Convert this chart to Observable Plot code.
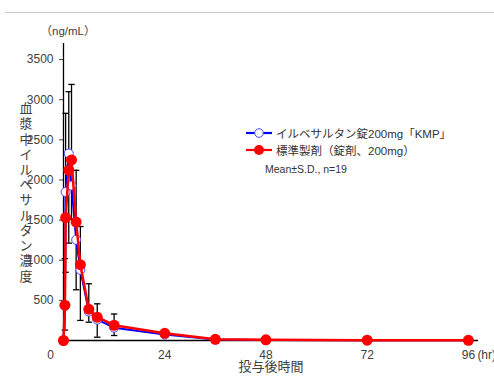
<!DOCTYPE html>
<html>
<head>
<meta charset="utf-8">
<script src="https://cdn.jsdelivr.net/npm/d3@7"></script>
<script src="https://cdn.jsdelivr.net/npm/@observablehq/plot@0.6"></script>
<style>
  body { margin: 0; background: #fff; }
  #wrap { position: relative; width: 494px; height: 376px; overflow: hidden; font-family: "Liberation Sans", "Noto Sans CJK JP", sans-serif; color: #333; }
  #topline { position: absolute; left: 5px; right: 0; top: 12px; border-top: 1px solid #c8c8c8; }
  #legend { position: absolute; left: 245px; top: 124px; font-size: 11.5px; }
  .row { display: flex; align-items: center; height: 17px; white-space: nowrap; }
  .row svg { margin-right: 3px; }
  .note { font-size: 10.5px; margin-left: 20px; margin-top: 5px; }
</style>
</head>
<body>
<div id="wrap">
  <div id="chart"></div>
  <div id="topline"></div>
  <div id="legend"></div>
</div>
<script>
// Sampling times (hr)
const times = [0, 0.33, 0.5, 1.25, 1.9, 3, 4, 6, 8, 12, 24, 36, 48, 72, 96];
// イルベサルタン錠200mg「KMP」 mean and S.D. (ng/mL)
const kmpMean = [0, 430, 1850, 2330, 1930, 1255, 880, 360, 260, 160, 75, 12, 7, 3, 2];
const kmpSD   = [0, 300, 1000, 1117, 420, 623, 630, 132, 219, 98, 30, 6, 3, 2, 1];
// 標準製剤（錠剤、200mg） mean and S.D. (ng/mL)
const refMean = [0, 440, 1530, 2120, 2250, 1475, 945, 390, 290, 190, 90, 15, 8, 4, 2];
const refSD   = [0, 580, 1300, 980, 940, 645, 475, 317, 167, 140, 35, 8, 4, 2, 1];

const yTicks = [500, 1000, 1500, 2000, 2500, 3000, 3500];
const xTicks = [24, 48, 72, 96];
const seriesNames = ["イルベサルタン錠200mg「KMP」", "標準製剤（錠剤、200mg）"];
const noteText = "Mean±S.D., n=19";
const yLabel = "血漿中イルベサルタン濃度";
const unitLabel = "（ng/mL）";
const xLabel = "投与後時間";

const rows = times.map((t, i) => ({
  t, kmp: kmpMean[i], kmpSD: kmpSD[i], ref: refMean[i], refSD: refSD[i]
}));
const errRows = rows.filter(d => d.t > 0);

const capSymbol = {
  draw(ctx, size) {
    const w = Math.sqrt(size / Math.PI);
    ctx.moveTo(-w, 0);
    ctx.lineTo(w, 0);
  }
};

const font = '"Liberation Sans", "Noto Sans CJK JP", sans-serif';
const txt = "#404040";

const chart = Plot.plot({
  width: 494,
  height: 376,
  marginLeft: 63,
  marginRight: 16,
  marginTop: 43,
  marginBottom: 36,
  style: { fontFamily: font, background: "white" },
  x: { domain: [0, 98.4], axis: null },
  y: { domain: [0, 3700], axis: null },
  marks: [
    // error bars (reference: +SD, KMP: -SD)
    Plot.ruleX(errRows, { x: "t", y1: "ref", y2: d => d.ref + d.refSD, stroke: "black", strokeWidth: 1.3 }),
    Plot.dot(errRows, { x: "t", y: d => d.ref + d.refSD, symbol: capSymbol, r: 3.2, stroke: "black", strokeWidth: 1.3 }),
    Plot.ruleX(errRows, { x: "t", y1: "kmp", y2: d => Math.max(0, d.kmp - d.kmpSD), stroke: "black", strokeWidth: 1.3 }),
    Plot.dot(errRows, { x: "t", y: d => Math.max(0, d.kmp - d.kmpSD), symbol: capSymbol, r: 3.2, stroke: "black", strokeWidth: 1.3 }),
    // axes lines
    Plot.ruleX([0], { y1: 0, y2: 3700, stroke: "black", strokeWidth: 1.3 }),
    Plot.ruleY([0], { x1: 0, x2: 98.4, stroke: "black", strokeWidth: 1.3 }),
    Plot.axisY({ ticks: yTicks, tickSize: 4, tickPadding: 6, fontSize: 12, color: txt, label: null, tickFormat: d => String(d) }),
    Plot.text(xTicks, { x: d => d, y: 0, dy: 15, text: d => String(d), fontSize: 12, fill: txt }),
    Plot.text([0], { x: d => d, y: d => d, dx: -13, dy: 15, text: d => String(d), fontSize: 12, fill: txt }),
    Plot.text([xTicks[xTicks.length - 1]], { x: d => d, y: 0, dx: 9, dy: 15, text: () => "(hr)", textAnchor: "start", fontSize: 12, fill: txt }),
    Plot.text([xLabel], { frameAnchor: "bottom", dy: 30, fontSize: 13, fill: txt }),
    Plot.text([unitLabel], { frameAnchor: "top-left", dx: -23, dy: -17, fontSize: 11.5, fill: txt }),
    Plot.text([yLabel.split("").join("\n")], { frameAnchor: "left", dx: -44, fontSize: 13, lineHeight: 1.17, fill: txt }),
    // KMP series
    Plot.line(rows, { x: "t", y: "kmp", stroke: "#0000ff", strokeWidth: 2 }),
    Plot.dot(rows, { x: "t", y: "kmp", r: 4.5, fill: "white", stroke: "#4848ff", strokeWidth: 1 }),
    // reference series
    Plot.line(rows, { x: "t", y: "ref", stroke: "#ff0000", strokeWidth: 2.5 }),
    Plot.dot(rows, { x: "t", y: "ref", r: 5.5, fill: "#ff0000" })
  ]
});
document.getElementById("chart").append(chart);

// legend
const legend = document.getElementById("legend");
const swatch = (color, open) => {
  const s = `<svg width="28" height="12"><line x1="1" x2="27" y1="6" y2="6" stroke="${color}" stroke-width="2.2"/>` +
    (open ? `<circle cx="14" cy="6" r="4.3" fill="white" stroke="#4848ff"/>` : `<circle cx="14" cy="6" r="5" fill="${color}"/>`) + `</svg>`;
  return s;
};
legend.innerHTML =
  `<div class="row">${swatch("#0000ff", true)}<span>${seriesNames[0]}</span></div>` +
  `<div class="row">${swatch("#ff0000", false)}<span>${seriesNames[1]}</span></div>` +
  `<div class="note">${noteText}</div>`;
</script>
</body>
</html>
